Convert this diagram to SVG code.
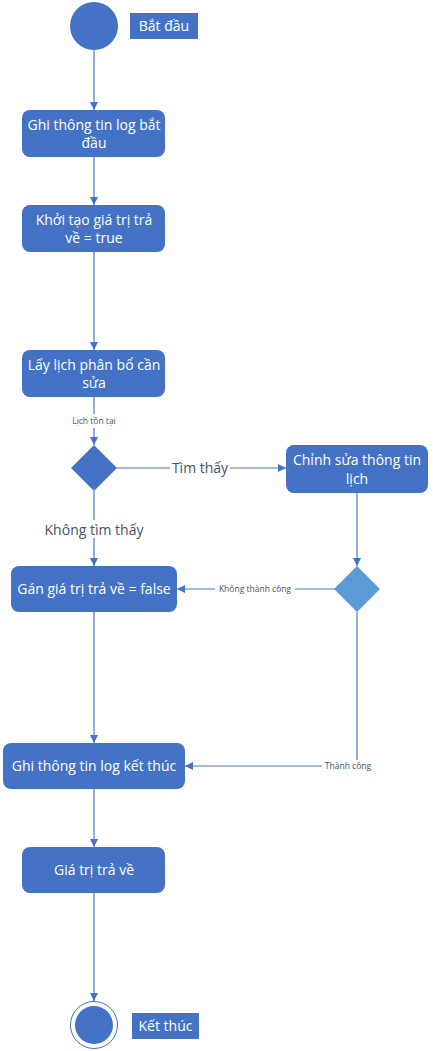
<svg xmlns="http://www.w3.org/2000/svg" width="433" height="1051" viewBox="0 0 433 1051">
<style>
.box{fill:#4472C4;}
.t{font-family:"Open Sans","Liberation Sans",sans-serif;font-size:14px;fill:#fff;text-anchor:middle;}
.c{stroke:#4A78C2;stroke-width:1.2;fill:none;}
.lb{font-family:"Open Sans","Liberation Sans",sans-serif;fill:#44546A;text-anchor:middle;}
</style>
<defs>
<marker id="ah" viewBox="0 0 10 10" refX="10" refY="5" markerWidth="8" markerHeight="8" markerUnits="userSpaceOnUse" orient="auto">
<path d="M0,0 L10,5 L0,10 z" fill="#4472C4"/>
</marker>
</defs>
<rect width="433" height="1051" fill="#fff"/>
<g id="connectors">
<line class="c" x1="94" y1="50" x2="94" y2="110" marker-end="url(#ah)"/>
<line class="c" x1="94" y1="157" x2="94" y2="205" marker-end="url(#ah)"/>
<line class="c" x1="94" y1="252" x2="94" y2="350" marker-end="url(#ah)"/>
<line class="c" x1="94" y1="397" x2="94" y2="414"/>
<line class="c" x1="94" y1="428" x2="94" y2="445" marker-end="url(#ah)"/>
<rect x="66" y="415" width="56" height="12" fill="#fff"/>
<text class="lb" x="94" y="424" font-size="8.5">Lịch tồn tại</text>
<line class="c" x1="117" y1="468" x2="286" y2="468" marker-end="url(#ah)"/>
<rect x="170" y="460" width="60" height="16" fill="#fff"/>
<text class="lb" x="200" y="473" font-size="14">Tìm thấy</text>
<line class="c" x1="94" y1="491" x2="94" y2="566" marker-end="url(#ah)"/>
<rect x="42" y="520" width="104" height="18" fill="#fff"/>
<text class="lb" x="94" y="535" font-size="14">Không tìm thấy</text>
<line class="c" x1="357" y1="493" x2="357" y2="566" marker-end="url(#ah)"/>
<line class="c" x1="335" y1="589" x2="177" y2="589" marker-end="url(#ah)"/>
<rect x="215" y="583" width="80" height="12" fill="#fff"/>
<text class="lb" x="255" y="592" font-size="8.5">Không thành công</text>
<line class="c" x1="94" y1="612" x2="94" y2="743" marker-end="url(#ah)"/>
<polyline class="c" points="357,612 357,766 185,766" marker-end="url(#ah)"/>
<rect x="322" y="760" width="52" height="12" fill="#fff"/>
<text class="lb" x="348" y="769" font-size="8.5">Thành công</text>
<line class="c" x1="94" y1="789" x2="94" y2="847" marker-end="url(#ah)"/>
<line class="c" x1="94" y1="893" x2="94" y2="1001" marker-end="url(#ah)"/>
</g>
<g id="start">
<circle cx="94" cy="26" r="24" fill="#4472C4"/>
<rect x="130" y="13" width="68" height="26" fill="#4472C4"/>
<text class="t" x="164" y="31">Bắt đầu</text>
</g>
<g id="log-start">
<rect class="box" x="22" y="110" width="143" height="47" rx="8"/>
<text class="t" x="94" y="130">Ghi thông tin log bắt</text>
<text class="t" x="94" y="148">đầu</text>
</g>
<g id="init">
<rect class="box" x="22" y="205" width="143" height="47" rx="8"/>
<text class="t" x="94" y="225">Khởi tạo giá trị trả</text>
<text class="t" x="94" y="243">về = true</text>
</g>
<g id="get">
<rect class="box" x="22" y="350" width="143" height="47" rx="8"/>
<text class="t" x="94" y="370">Lấy lịch phân bổ cần</text>
<text class="t" x="94" y="388">sửa</text>
</g>
<g id="decision1">
<polygon points="94,445 117,468 94,491 71,468" fill="#4472C4"/>
</g>
<g id="edit">
<rect class="box" x="286" y="445" width="142" height="48" rx="8"/>
<text class="t" x="357" y="465">Chỉnh sửa thông tin</text>
<text class="t" x="357" y="484">lịch</text>
</g>
<g id="decision2">
<polygon points="357,566 380,589 357,612 334,589" fill="#5B9BD5"/>
</g>
<g id="set-false">
<rect class="box" x="11" y="566" width="166" height="46" rx="8"/>
<text class="t" x="94" y="594">Gán giá trị trả về = false</text>
</g>
<g id="log-end">
<rect class="box" x="3" y="743" width="182" height="46" rx="8"/>
<text class="t" x="94" y="771">Ghi thông tin log kết thúc</text>
</g>
<g id="return">
<rect class="box" x="22" y="847" width="143" height="46" rx="8"/>
<text class="t" x="94" y="875">Giá trị trả về</text>
</g>
<g id="end">
<circle cx="94" cy="1025" r="23.5" fill="#fff" stroke="#4472C4" stroke-width="1"/>
<circle cx="94" cy="1025" r="19" fill="#4472C4"/>
<rect x="132" y="1013" width="67" height="26" fill="#4472C4"/>
<text class="t" x="165.5" y="1031">Kết thúc</text>
</g>
</svg>
